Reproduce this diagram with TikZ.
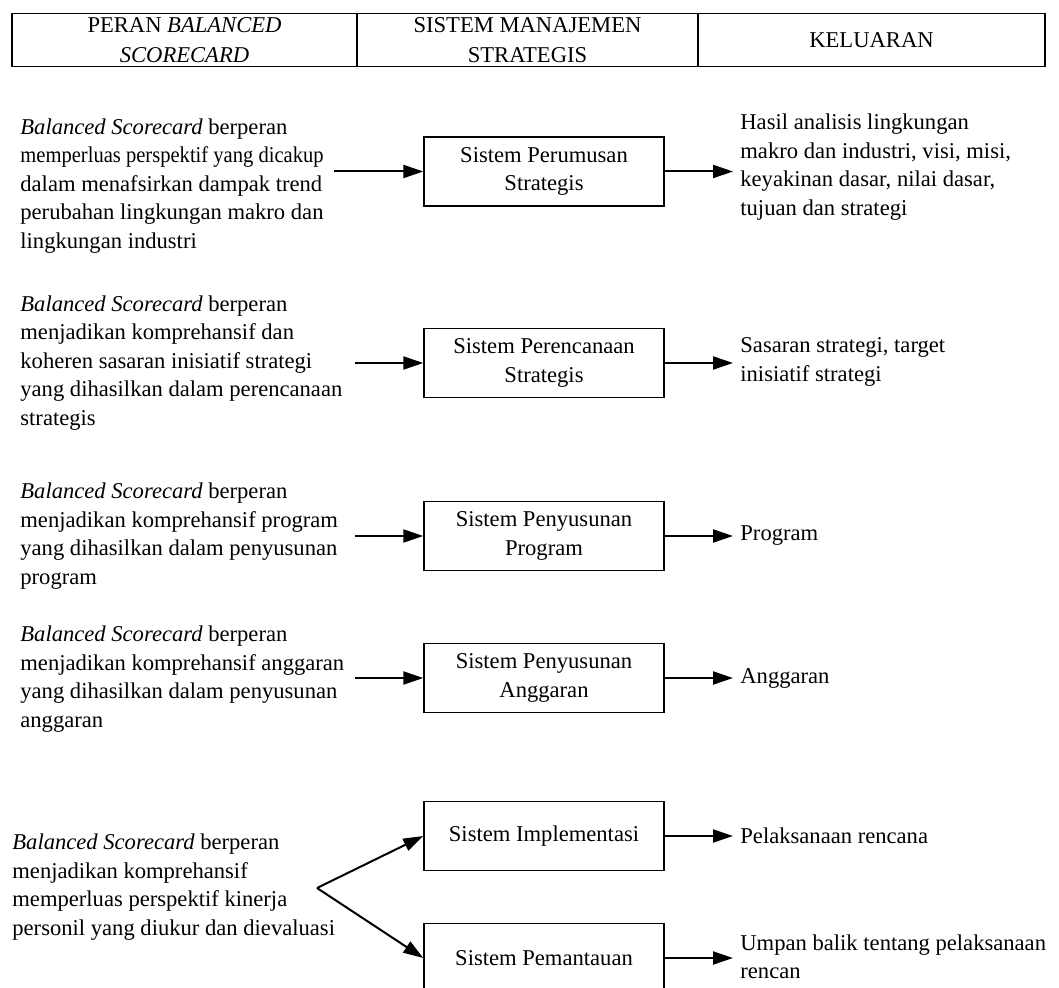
\documentclass[tikz,border=0pt]{standalone}
\usepackage{fontspec}
\setmainfont{Liberation Serif}
\usetikzlibrary{arrows.meta}
\begin{document}
\begin{tikzpicture}[x=0.5pt,y=-0.5pt,
  txt/.style={font=\fontsize{11.3}{14.25}\selectfont},
  headcell/.style={draw, line width=0.7pt, minimum height=26.5pt, inner sep=0pt,
    align=center, font=\fontsize{11.3}{14.75}\selectfont},
  sysbox/.style={txt, draw, line width=0.7pt, minimum width=120pt, minimum height=34.5pt,
    align=center, inner sep=0pt},
  role/.style={txt, anchor=west, align=left, inner sep=0pt},
  result/.style={txt, anchor=west, align=left, inner sep=0pt},
  flow/.style={line width=1pt, -{Triangle[length=10pt,width=6.5pt]}},
]
\useasboundingbox (0,0) rectangle (1059,988);

% table header
\node[headcell, minimum width=172.5pt] (h1) at (184.5,40) {PERAN \textit{BALANCED}\\\textit{SCORECARD}};
\node[headcell, minimum width=170.5pt] (h2) at (527.5,40) {SISTEM MANAJEMEN\\STRATEGIS};
\node[headcell, minimum width=173.5pt] (h3) at (871.5,40) {KELUARAN};

% strategic management subsystems
\node[sysbox] (b1) at (544,171.5) {Sistem Perumusan\\Strategis};
\node[sysbox] (b2) at (544,363) {Sistem Perencanaan\\Strategis};
\node[sysbox] (b3) at (544,536) {Sistem Penyusunan\\Program};
\node[sysbox] (b4) at (544,678) {Sistem Penyusunan\\Anggaran};
\node[sysbox] (b5) at (544,836) {Sistem Implementasi};
\node[sysbox] (b6) at (544,958) {Sistem Pemantauan};

% roles of the balanced scorecard
\node[role] (r1) at (20,186) {\textit{Balanced Scorecard} berperan\\\scalebox{0.91}[1]{memperluas perspektif yang dicakup}\\dalam menafsirkan dampak trend\\perubahan lingkungan makro dan\\lingkungan industri};
\node[role] (r2) at (20,363) {\textit{Balanced Scorecard} berperan\\menjadikan komprehansif dan\\koheren sasaran inisiatif strategi\\yang dihasilkan dalam perencanaan\\strategis};
\node[role] (r3) at (20,536) {\textit{Balanced Scorecard} berperan\\menjadikan komprehansif program\\yang dihasilkan dalam penyusunan\\program};
\node[role] (r4) at (20,679) {\textit{Balanced Scorecard} berperan\\menjadikan komprehansif anggaran\\yang dihasilkan dalam penyusunan\\anggaran};
\node[role] (r5) at (12,887) {\textit{Balanced Scorecard} berperan\\menjadikan komprehansif\\memperluas perspektif kinerja\\personil yang diukur dan dievaluasi};

% outputs
\node[result] (o1) at (740,167) {Hasil analisis lingkungan\\makro dan industri, visi, misi,\\keyakinan dasar, nilai dasar,\\tujuan dan strategi};
\node[result] (o2) at (740,362) {Sasaran strategi, target\\inisiatif strategi};
\node[result] (o3) at (740,536) {Program};
\node[result] (o4) at (740,678) {Anggaran};
\node[result] (o5) at (740,836) {Pelaksanaan rencana};
\node[result] (o6) at (740,957) {Umpan balik tentang pelaksanaan\\rencan};

% arrow tails on the left
\coordinate (i1) at (334,171.5);
\coordinate (i2) at (355,363);
\coordinate (i3) at (355,536);
\coordinate (i4) at (355,678);
\coordinate (fork) at (317,888);

\draw[flow] (i1) -- (b1.west);
\draw[flow] (i2) -- (b2.west);
\draw[flow] (i3) -- (b3.west);
\draw[flow] (i4) -- (b4.west);
\draw[flow] (fork) -- (b5.west);
\draw[flow] (fork) -- (b6.west);

\foreach \k in {1,...,6}
  \draw[flow, shorten >=3.5pt] (b\k.east) -- (b\k.east -| o\k.west);
\end{tikzpicture}
\end{document}
